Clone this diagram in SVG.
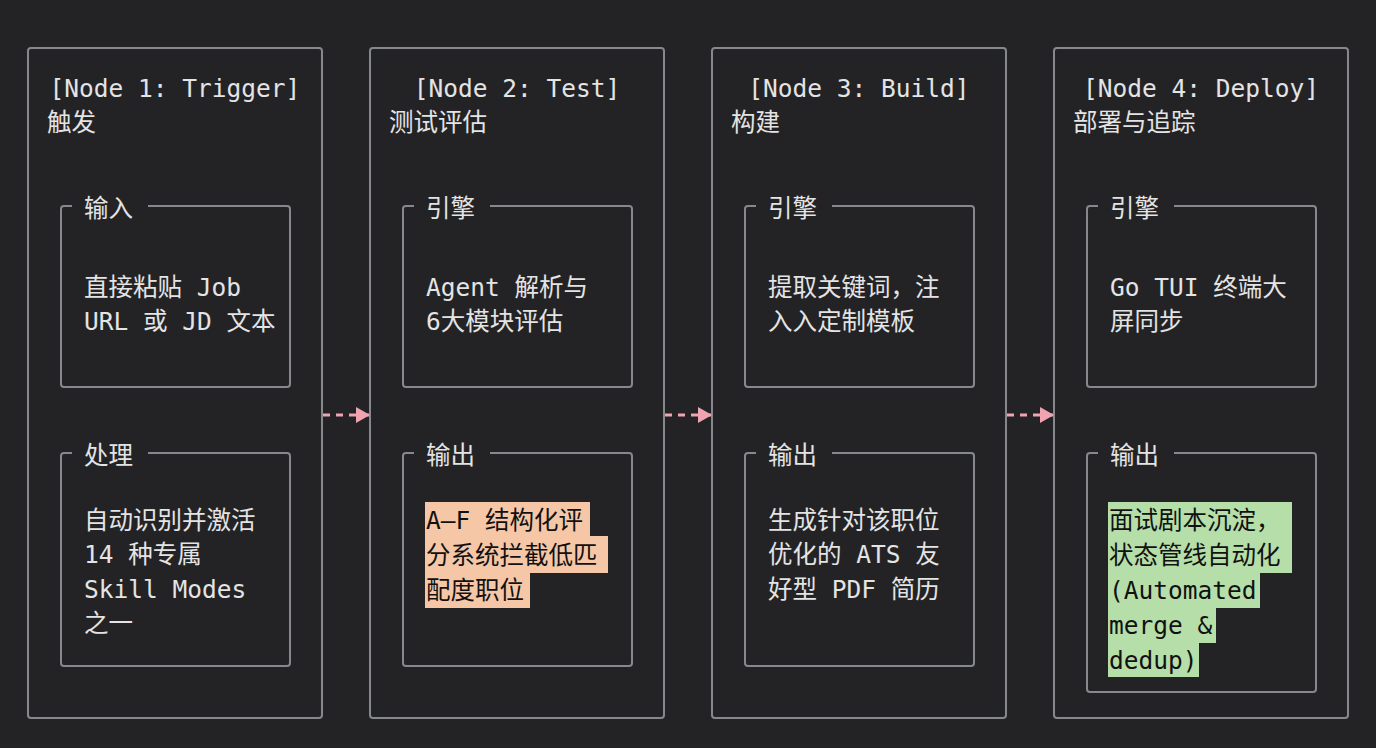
<svg xmlns="http://www.w3.org/2000/svg" width="1376" height="748" viewBox="0 0 1376 748">
<defs>
<style>
.bg{fill:#232326}
.outer{fill:#232326;stroke:#85888d;stroke-width:2}
.inner{fill:none;stroke:#85888d;stroke-width:2}
.t{font-family:"DejaVu Sans Mono","Liberation Mono","Noto Sans CJK SC",monospace;font-size:24.5px;fill:#e4e4e4}
.h{font-family:"DejaVu Sans Mono","Liberation Mono","Noto Sans CJK SC",monospace;font-size:24.5px;fill:#111}
.ctr{text-anchor:middle}
.conn{stroke:#f0a3b0;stroke-width:3;stroke-dasharray:7 6;fill:none}
.orange{fill:#f6c7a6}
.green{fill:#b6dea9}
</style>
<marker id="arr" viewBox="0 0 14 16" refX="13" refY="8" markerWidth="14" markerHeight="16" markerUnits="userSpaceOnUse" orient="auto">
<path d="M0,0 L14,8 L0,16 Z" fill="#f0a3b0"/>
</marker>
</defs>
<rect class="bg" x="0" y="0" width="1376" height="748"/>

<g id="node1">
<rect class="outer" x="28" y="48" width="294" height="670" rx="3"/>
<text class="t ctr" x="175" y="97">[Node 1: Trigger]</text>
<text class="t" x="47" y="131">触发</text>
<path class="inner" d="M72,206 H64 Q61,206 61,209 V384 Q61,387 64,387 H287 Q290,387 290,384 V209 Q290,206 287,206 H148"/>
<text class="t" x="84" y="217">输入</text>
<text class="t" x="84" y="296">直接粘贴 Job</text>
<text class="t" x="84" y="330">URL 或 JD 文本</text>
<path class="inner" d="M72,453 H64 Q61,453 61,456 V663 Q61,666 64,666 H287 Q290,666 290,663 V456 Q290,453 287,453 H148"/>
<text class="t" x="84" y="464">处理</text>
<text class="t" x="84" y="529">自动识别并激活</text>
<text class="t" x="84" y="563">14 种专属</text>
<text class="t" x="84" y="598">Skill Modes</text>
<text class="t" x="84" y="632">之一</text>
</g>

<g id="node2">
<rect class="outer" x="370" y="48" width="294" height="670" rx="3"/>
<text class="t ctr" x="517" y="97">[Node 2: Test]</text>
<text class="t" x="389" y="131">测试评估</text>
<path class="inner" d="M414,206 H406 Q403,206 403,209 V384 Q403,387 406,387 H629 Q632,387 632,384 V209 Q632,206 629,206 H490"/>
<text class="t" x="426" y="217">引擎</text>
<text class="t" x="426" y="296">Agent 解析与</text>
<text class="t" x="426" y="330">6大模块评估</text>
<path class="inner" d="M414,453 H406 Q403,453 403,456 V663 Q403,666 406,666 H629 Q632,666 632,663 V456 Q632,453 629,453 H490"/>
<text class="t" x="426" y="464">输出</text>
<rect class="orange" x="425" y="502" width="165" height="34"/>
<rect class="orange" x="425" y="536" width="183" height="37"/>
<rect class="orange" x="425" y="572" width="105" height="36"/>
<text class="h" x="426" y="529">A–F 结构化评</text>
<text class="h" x="426" y="564">分系统拦截低匹</text>
<text class="h" x="426" y="599">配度职位</text>
</g>

<g id="node3">
<rect class="outer" x="712" y="48" width="294" height="670" rx="3"/>
<text class="t ctr" x="859" y="97">[Node 3: Build]</text>
<text class="t" x="731" y="131">构建</text>
<path class="inner" d="M756,206 H748 Q745,206 745,209 V384 Q745,387 748,387 H971 Q974,387 974,384 V209 Q974,206 971,206 H832"/>
<text class="t" x="768" y="217">引擎</text>
<text class="t" x="768" y="296">提取关键词，注</text>
<text class="t" x="768" y="330">入入定制模板</text>
<path class="inner" d="M756,453 H748 Q745,453 745,456 V663 Q745,666 748,666 H971 Q974,666 974,663 V456 Q974,453 971,453 H832"/>
<text class="t" x="768" y="464">输出</text>
<text class="t" x="768" y="529">生成针对该职位</text>
<text class="t" x="768" y="563">优化的 ATS 友</text>
<text class="t" x="768" y="598">好型 PDF 简历</text>
</g>

<g id="node4">
<rect class="outer" x="1054" y="48" width="294" height="670" rx="3"/>
<text class="t ctr" x="1201" y="97">[Node 4: Deploy]</text>
<text class="t" x="1073" y="131">部署与追踪</text>
<path class="inner" d="M1098,206 H1090 Q1087,206 1087,209 V384 Q1087,387 1090,387 H1313 Q1316,387 1316,384 V209 Q1316,206 1313,206 H1174"/>
<text class="t" x="1110" y="217">引擎</text>
<text class="t" x="1110" y="296">Go TUI 终端大</text>
<text class="t" x="1110" y="330">屏同步</text>
<path class="inner" d="M1098,453 H1090 Q1087,453 1087,456 V689 Q1087,692 1090,692 H1313 Q1316,692 1316,689 V456 Q1316,453 1313,453 H1174"/>
<text class="t" x="1110" y="464">输出</text>
<rect class="green" x="1108" y="502" width="184" height="36"/>
<rect class="green" x="1108" y="537" width="184" height="36"/>
<rect class="green" x="1108" y="572" width="152" height="36"/>
<rect class="green" x="1108" y="607" width="108" height="36"/>
<rect class="green" x="1108" y="642" width="91" height="35"/>
<text class="h" x="1109" y="529">面试剧本沉淀，</text>
<text class="h" x="1109" y="564">状态管线自动化</text>
<text class="h" x="1109" y="599">(Automated</text>
<text class="h" x="1109" y="634">merge &amp;</text>
<text class="h" x="1109" y="669">dedup)</text>
</g>

<g id="connectors">
<path class="conn" d="M323,415 H369" marker-end="url(#arr)"/>
<path class="conn" d="M665,415 H711" marker-end="url(#arr)"/>
<path class="conn" d="M1007,415 H1053" marker-end="url(#arr)"/>
</g>
</svg>
